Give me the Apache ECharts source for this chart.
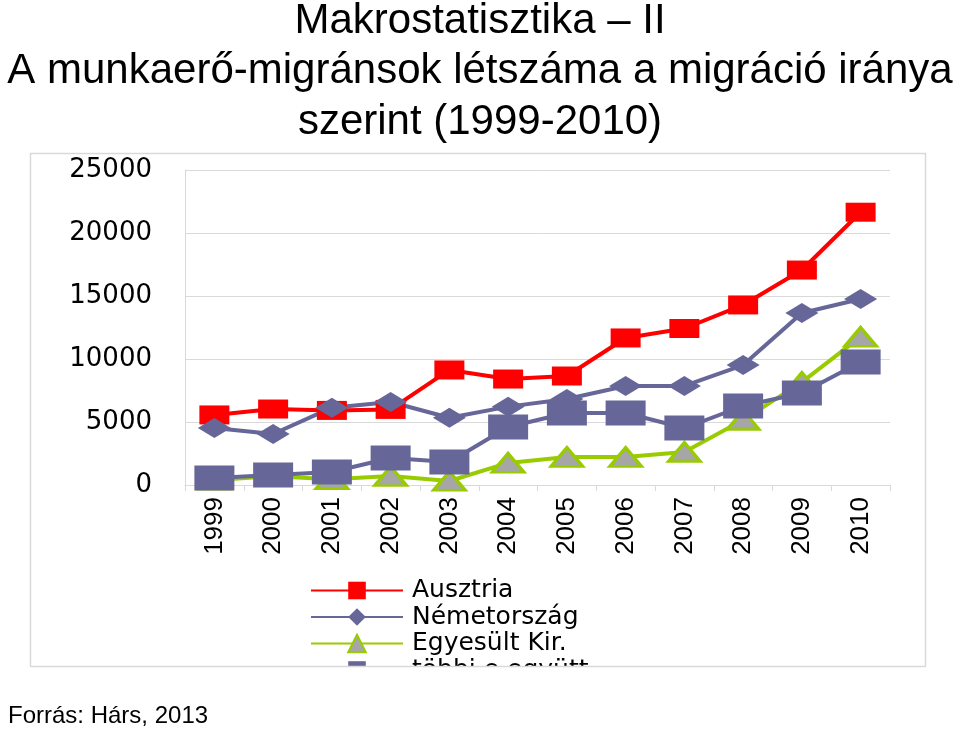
<!DOCTYPE html>
<html>
<head>
<meta charset="utf-8">
<script src="https://cdn.jsdelivr.net/npm/echarts@6/dist/echarts.min.js"></script>
<style>
html,body{margin:0;padding:0;background:#fff;}
#c{width:960px;height:735px;}
</style>
</head>
<body>
<div id="c"></div>
<script>
var years = ['1999','2000','2001','2002','2003','2004','2005','2006','2007','2008','2009','2010'];
var seriesNames = ['Ausztria','Németország','Egyesült Kir.','többi e együtt'];
var ausztria = [5560,6030,5920,6000,9130,8410,8650,11670,12420,14290,17060,21650];
var nemetorszag = [4520,4050,6140,6590,5340,6220,6830,7860,7860,9520,13650,14760];
var egyesult = [400,700,450,710,320,1750,2220,2220,2620,5160,8170,11750];
var tobbi = [560,790,1030,2140,1830,4600,5710,5710,4520,6270,7300,9760];
var titleLines = ['Makrostatisztika – II','A munkaerő-migránsok létszáma a migráció iránya','szerint (1999-2010)'];

var titleStyle = {fontFamily:'Liberation Sans', fontSize:42, fontWeight:'normal', color:'#000'};
var chart = echarts.init(document.getElementById('c'));
chart.setOption({
  animation:false,
  backgroundColor:'#fff',
  title:[
    {text:titleLines[0], left:'center', top:0, padding:0, textStyle:titleStyle},
    {text:titleLines[1], left:'center', top:50, padding:0, textStyle:titleStyle},
    {text:titleLines[2], left:'center', top:101, padding:0, textStyle:titleStyle},
    {text:'Forrás: Hárs, 2013', left:8, top:704, padding:0,
     textStyle:{fontFamily:'Liberation Sans', fontSize:24, fontWeight:'normal', color:'#000'}}
  ],
  grid:{left:185, right:70, top:170, bottom:250},
  legend:{
    orient:'vertical', left:310, top:578, padding:0,
    itemWidth:92, itemHeight:22, itemGap:1.5,
    data:seriesNames,
    textStyle:{fontFamily:'DejaVu Sans', fontSize:25, color:'#000', lineHeight:22, padding:[0,0,0,4]}
  },
  xAxis:{
    type:'category', data:years, boundaryGap:true,
    axisLine:{lineStyle:{color:'#d9d9d9', width:1}},
    axisTick:{show:true, length:6, lineStyle:{color:'#d9d9d9'}},
    axisLabel:{rotate:90, margin:12, fontFamily:'Liberation Sans', fontSize:26, color:'#000'}
  },
  yAxis:{
    type:'value', min:0, max:25000, interval:5000,
    axisLine:{show:true, lineStyle:{color:'#d9d9d9'}},
    axisTick:{show:false},
    splitLine:{lineStyle:{color:'#d9d9d9', width:1}},
    axisLabel:{margin:33, fontFamily:'DejaVu Sans', fontSize:26, color:'#000',
      formatter:function(v){return String(v);}}
  },
  series:[
    {name:seriesNames[0], type:'line', data:ausztria, symbol:'rect', symbolSize:[30,19],
     lineStyle:{color:'#ff0000', width:4}, itemStyle:{color:'#ff0000'}},
    {name:seriesNames[1], type:'line', data:nemetorszag, symbol:'diamond', symbolSize:[33,20],
     lineStyle:{color:'#666699', width:4}, itemStyle:{color:'#666699'}},
    {name:seriesNames[2], type:'line', data:egyesult, symbol:'triangle', symbolSize:[32,19],
     lineStyle:{color:'#99cc00', width:4}, itemStyle:{color:'#a6a6a6', borderColor:'#99cc00', borderWidth:3}},
    {name:seriesNames[3], type:'line', data:tobbi, symbol:'rect', symbolSize:[40,25],
     lineStyle:{color:'#666699', width:4}, itemStyle:{color:'#666699'}}
  ],
  graphic:[
    {type:'rect', z:100, shape:{x:290, y:666, width:420, height:30}, style:{fill:'#fff'}},
    {type:'rect', z:101, shape:{x:30.5, y:153.5, width:895, height:513}, style:{fill:'none', stroke:'#d9d9d9', lineWidth:1.5}}
  ]
});
</script>
</body>
</html>
